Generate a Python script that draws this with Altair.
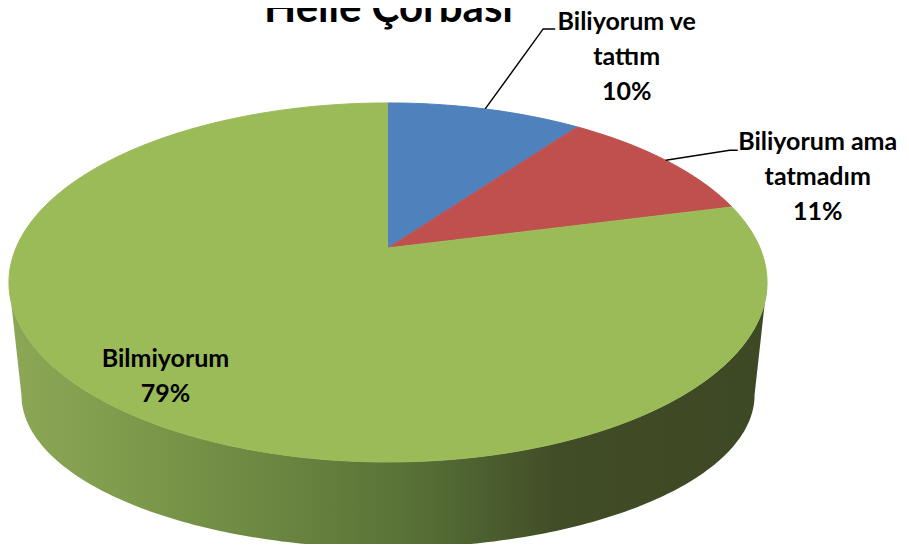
import numpy as np
import pandas as pd
import altair as alt

# ---------------- data ----------------
categories = ["Biliyorum ve tattım", "Biliyorum ama tatmadım", "Bilmiyorum"]
values = [10, 11, 79]
label_lines = [["Biliyorum ve", "tattım"], ["Biliyorum ama", "tatmadım"], ["Bilmiyorum"]]
colors = ["#4F81BD", "#C0504D", "#9BBB59"]
title_text = "Helle Çorbası"

# ---------------- layout / style (3D pie projection) ----------------
W, H = 893, 536            # plot area (px)
APEX_X, APEX_Y = 380, 240  # pie centre inside plot area (px)
A, B, K = 372.0, 172.9, 0.192   # horizontal radius, vertical radius, perspective
WALL_SX, WALL_YB, WALL_FLAT = 0.967, -147.0, 0.852
EXT_Y = -34.5
N_FULL = 360

# label layout: (radius factor, elbow offset, tail length, text offset)
label_layout = [
    dict(r=1.0, elbow=(58, 80), tail=12, text=(83.5, -1)),
    dict(r=1.0, elbow=(64, 10), tail=8, text=(88, 0)),
    dict(r=0.85, elbow=None, tail=0, text=(0, 14)),
]

def proj(theta_deg, r=1.0):
    t = np.radians(theta_deg)
    u, v = r * np.sin(t), r * np.cos(t)
    d = 1 + K * v
    return A * u / d, B * v / d

total = sum(values)
fracs = [v / total for v in values]
starts = np.concatenate([[0], np.cumsum(fracs)[:-1]]) * 360
ends = np.cumsum(fracs) * 360

# top faces
rows = []
for c, s, e in zip(categories, starts, ends):
    n = max(int((e - s) / 360 * N_FULL), 4)
    rows.append(dict(cat=c, i=0, x=0.0, y=0.0))
    for j, th in enumerate(np.linspace(s, e, n + 1)):
        x, y = proj(th)
        rows.append(dict(cat=c, i=j + 1, x=x, y=y))
top_df = pd.DataFrame(rows)

# side wall (front, between the horizontal extremes)
t_ext = np.degrees(np.arccos(-K))
right_th, left_th = t_ext, 360 - t_ext
wall = []
ths = np.linspace(left_th, right_th, 200)
for j, th in enumerate(ths):
    x, y = proj(th)
    wall.append(dict(i=j, x=x, y=y))
for j, th in enumerate(ths[::-1]):
    x, y = proj(th)
    wall.append(dict(i=200 + j, x=WALL_SX * x, y=WALL_YB + (y - EXT_Y) * WALL_FLAT))
wall_df = pd.DataFrame(wall)

# labels & leaders
lead, labs = [], []
for k, (c, s, e, v) in enumerate(zip(categories, starts, ends, values)):
    lay = label_layout[k]
    mx, my = proj((s + e) / 2, lay["r"])
    pct = f"{round(v / total * 100)}%"
    text = "\n".join(label_lines[k] + [pct])
    if lay["elbow"] is not None:
        ex, ey = mx + lay["elbow"][0], my + lay["elbow"][1]
        lead += [dict(cat=c, i=0, x=mx, y=my), dict(cat=c, i=1, x=ex, y=ey),
                 dict(cat=c, i=2, x=ex + lay["tail"], y=ey)]
        ax, ay = ex, ey
    else:
        ax, ay = mx, my
    labs.append(dict(cat=c, x=ax + lay["text"][0], y=ay + lay["text"][1], t=text))
lead_df = pd.DataFrame(lead)
lab_df = pd.DataFrame(labs)

xs = alt.Scale(domain=[-APEX_X, W - APEX_X], nice=False, zero=False)
ys = alt.Scale(domain=[-(H - APEX_Y), APEX_Y], nice=False, zero=False)
X = alt.X("x:Q", scale=xs, axis=None)
Y = alt.Y("y:Q", scale=ys, axis=None)
cscale = alt.Scale(domain=categories, range=colors)

grad = alt.LinearGradient(
    gradient="linear", x1=0, x2=1, y1=0, y2=0,
    stops=[alt.GradientStop(color="#8CA856", offset=0),
           alt.GradientStop(color="#7A9649", offset=0.2),
           alt.GradientStop(color="#66813E", offset=0.4),
           alt.GradientStop(color="#566E36", offset=0.55),
           alt.GradientStop(color="#414D27", offset=0.72),
           alt.GradientStop(color="#3D4824", offset=1)])

wall_layer = alt.Chart(wall_df).mark_line(fill=grad, strokeOpacity=0, strokeWidth=0).encode(
    x=X, y=Y, order=alt.Order("i:Q"))

top_layer = alt.Chart(top_df).mark_line(strokeWidth=1).encode(
    x=X, y=Y, order=alt.Order("i:Q"), detail="cat:N",
    fill=alt.Fill("cat:N", scale=cscale, legend=None),
    stroke=alt.Stroke("cat:N", scale=cscale, legend=None))

lead_layer = alt.Chart(lead_df).mark_line(color="black", strokeWidth=1.4).encode(
    x=X, y=Y, order=alt.Order("i:Q"), detail="cat:N")

lab_layer = alt.Chart(lab_df).mark_text(
    font="Lato", fontWeight="bold", fontSize=25, color="black",
    align="center", baseline="alphabetic", lineBreak="\n", lineHeight=35).encode(
    x=X, y=Y, text="t:N")

title_layer = alt.Chart(pd.DataFrame({"t": [title_text]})).mark_text(
    font="Lato", fontWeight="bold", fontSize=42, color="black",
    align="center", baseline="alphabetic").encode(
    x=alt.value(380.5), y=alt.value(14), text="t:N")

chart = alt.layer(wall_layer, top_layer, lead_layer, lab_layer, title_layer).properties(
    width=W, height=H, padding=0, autosize=alt.AutoSizeParams(type="none")
).configure_view(strokeWidth=0)

chart.save("out.html", embed_options={"renderer": "svg", "actions": False})
